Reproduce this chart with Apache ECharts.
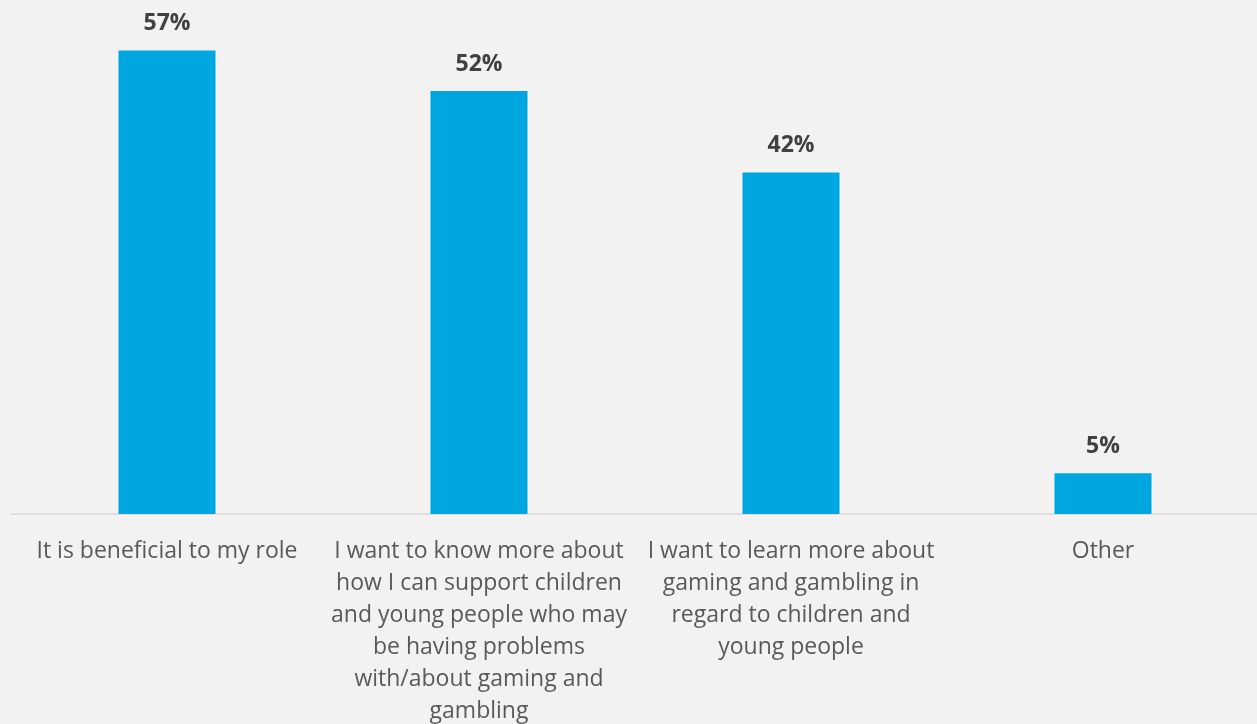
<!DOCTYPE html>
<html>
<head>
<meta charset="utf-8">
<script src="https://cdn.jsdelivr.net/npm/echarts@6/dist/echarts.min.js"></script>
<style>
  html, body { margin: 0; padding: 0; background: #f2f2f2; }
  #chart { width: 1257px; height: 724px; }
</style>
</head>
<body>
<div id="chart"></div>
<script>
// Reasons for wanting the training (share of respondents, %)
const categories = [
  'It is beneficial to my role',
  'I want to know more about\nhow I can support children\nand young people who may\nbe having problems\nwith/about gaming and\ngambling',
  'I want to learn more about\ngaming and gambling in\nregard to children and\nyoung people',
  'Other'
];
const values = [57, 52, 42, 5];

const chart = echarts.init(document.getElementById('chart'));
chart.setOption({
  backgroundColor: '#f2f2f2',
  animation: false,
  grid: {
    left: 11, top: 26, width: 1248, height: 488,
    containLabel: false,
    outerBoundsMode: 'none'
  },
  xAxis: {
    type: 'category',
    data: categories,
    axisLine: { show: true, lineStyle: { color: '#d9d9d9', width: 1.5 } },
    axisTick: { show: false },
    axisLabel: {
      interval: 0,
      color: '#595959',
      fontFamily: 'Open Sans',
      fontSize: 23,
      lineHeight: 32,
      margin: 21
    }
  },
  yAxis: {
    type: 'value',
    min: 0,
    max: 60,
    show: false,
    splitLine: { show: false }
  },
  series: [{
    type: 'bar',
    data: values,
    barWidth: 97,
    itemStyle: { color: '#00a6e0' },
    label: {
      show: true,
      position: 'top',
      distance: 15,
      formatter: '{c}%',
      color: '#404040',
      fontFamily: 'Open Sans',
      fontWeight: 'bold',
      fontSize: 23
    }
  }]
});
</script>
</body>
</html>
